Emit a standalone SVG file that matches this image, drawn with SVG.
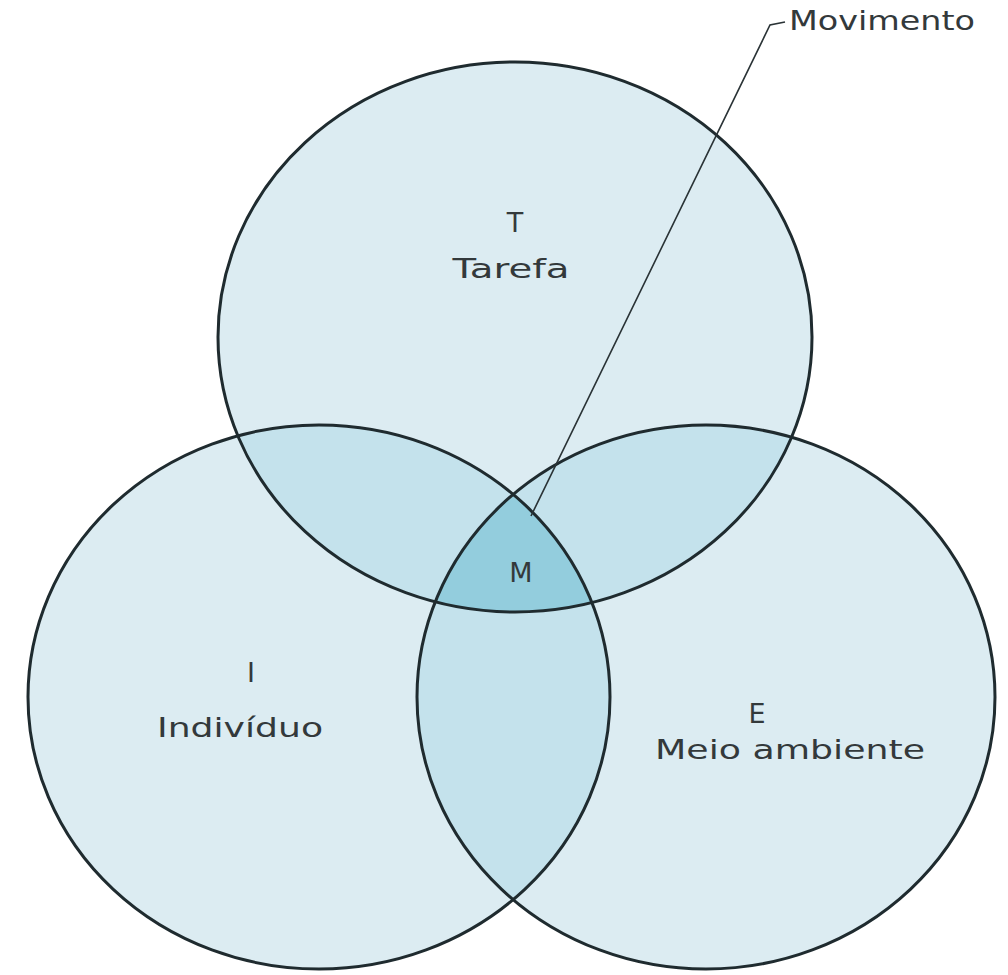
<svg xmlns="http://www.w3.org/2000/svg" width="1008" height="975" viewBox="0 0 1008 975">
<style>
.base{fill:#dcecf2}
.dbl{fill:#c4e2ec}
.tri{fill:#93cddd}
.edge{fill:none;stroke:#1f2b2f;stroke-width:3}
.lbl{font-family:"DejaVu Sans","Liberation Sans",Arial,sans-serif;font-size:27px;fill:#33393b;text-anchor:middle}
.lead{fill:none;stroke:#2a3336;stroke-width:1.6}
</style>
<defs>
<clipPath id="cT"><ellipse cx="515" cy="337" rx="297" ry="275"/></clipPath>
<clipPath id="cL"><ellipse cx="319" cy="697" rx="291" ry="272"/></clipPath>
<clipPath id="cR"><ellipse cx="706" cy="697" rx="289" ry="272"/></clipPath>
</defs>
<rect width="1008" height="975" fill="#ffffff"/>
<g id="fills">
<ellipse class="base" cx="515" cy="337" rx="297" ry="275"/>
<ellipse class="base" cx="319" cy="697" rx="291" ry="272"/>
<ellipse class="base" cx="706" cy="697" rx="289" ry="272"/>
<ellipse class="dbl" cx="515" cy="337" rx="297" ry="275" clip-path="url(#cL)"/>
<ellipse class="dbl" cx="515" cy="337" rx="297" ry="275" clip-path="url(#cR)"/>
<ellipse class="dbl" cx="319" cy="697" rx="291" ry="272" clip-path="url(#cR)"/>
<g clip-path="url(#cR)"><ellipse class="tri" cx="515" cy="337" rx="297" ry="275" clip-path="url(#cL)"/></g>
</g>
<g id="node-T">
<ellipse class="edge" cx="515" cy="337" rx="297" ry="275"/>
<text class="lbl" x="515" y="232">T</text>
<text class="lbl" x="511" y="278" textLength="117" lengthAdjust="spacingAndGlyphs">Tarefa</text>
</g>
<g id="node-I">
<ellipse class="edge" cx="319" cy="697" rx="291" ry="272"/>
<text class="lbl" x="251" y="682">I</text>
<text class="lbl" x="240" y="737" textLength="166" lengthAdjust="spacingAndGlyphs">Indivíduo</text>
</g>
<g id="node-E">
<ellipse class="edge" cx="706" cy="697" rx="289" ry="272"/>
<text class="lbl" x="757" y="723">E</text>
<text class="lbl" x="790" y="759" textLength="270" lengthAdjust="spacingAndGlyphs">Meio ambiente</text>
</g>
<g id="node-M">
<text class="lbl" x="521" y="582">M</text>
</g>
<g id="connectors">
<polyline class="lead" points="531,516 770,25 785,22"/>
</g>
<g id="node-Movimento">
<text class="lbl" x="789" y="30" textLength="186" lengthAdjust="spacingAndGlyphs" style="text-anchor:start">Movimento</text>
</g>
</svg>
